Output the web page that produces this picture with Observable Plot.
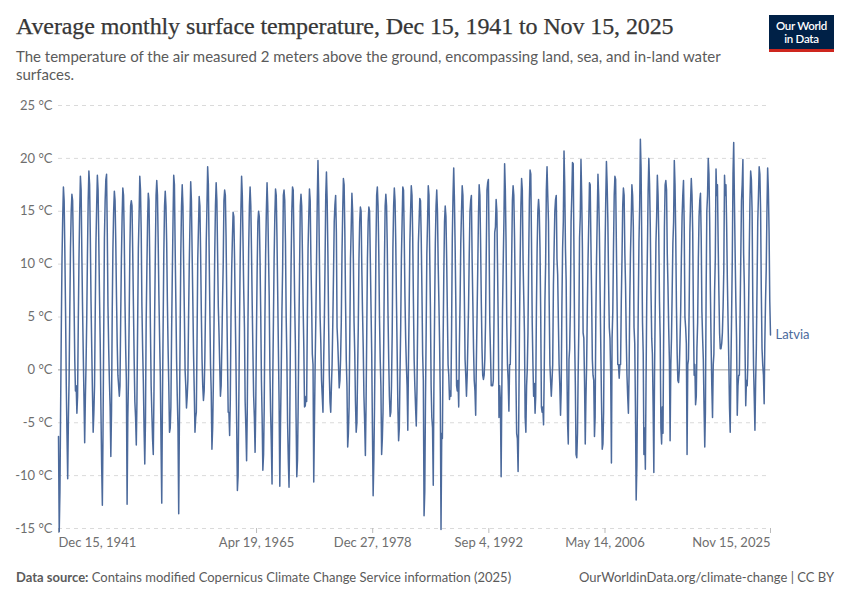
<!DOCTYPE html>
<html>
<head>
<meta charset="utf-8">
<script src="https://cdn.jsdelivr.net/npm/d3@7"></script>
<script src="https://cdn.jsdelivr.net/npm/@observablehq/plot@0.6"></script>
<style>
  body { margin:0; background:#fff; width:850px; height:600px; position:relative; overflow:hidden; font-family: Lato, "Noto Sans", sans-serif; }
  #title { position:absolute; left:16px; top:13px; font-family:"Liberation Serif", "DejaVu Serif", serif; font-size:24px; color:#373737; letter-spacing:-0.1px; -webkit-text-stroke:0.25px #373737; }
  #subtitle { position:absolute; left:16px; top:48px; width:740px; font-size:15px; line-height:17.5px; color:#5b5b5b; }
  #logo { position:absolute; left:769px; top:15px; width:65px; height:37px; background:#002147; border-bottom:3px solid #ce261e; color:#fff; font-size:11.5px; line-height:12.5px; text-align:center; box-sizing:border-box; padding-top:5px; font-weight:600; letter-spacing:-0.3px; }
  #chart { position:absolute; left:0; top:90px; }
  #footer { position:absolute; left:16px; right:16px; top:569px; font-size:13px; color:#5b5b5b; display:flex; justify-content:space-between; }
  #footer b { font-weight:700; }
</style>
</head>
<body>
<div id="title">Average monthly surface temperature, Dec 15, 1941 to Nov 15, 2025</div>
<div id="subtitle">The temperature of the air measured 2 meters above the ground, encompassing land, sea, and in-land water surfaces.</div>
<div id="logo">Our World<br>in Data</div>
<div id="chart"></div>
<div id="footer"><span><b>Data source:</b> Contains modified Copernicus Climate Change Service information (2025)</span><span>OurWorldinData.org/climate-change | CC BY</span></div>
<script>
// Monthly values (°C), Latvia. First value Dec 1941, then Jan..Dec per year, last Nov 2025.
const dec1941 = [-6.3];
const t1940s = [
 -15.3,-11.5,-4.0,4.0,10.5,14.5,17.3,16.0,11.0,5.5,-1.5,-6.0,
 -10.3,-4.5,-1.0,5.5,11.5,15.0,16.6,16.0,11.5,6.5,1.0,-2.0,
 -1.5,-4.1,-2.5,4.5,10.5,15.0,18.3,17.0,11.0,6.0,1.5,-2.5,
 -6.9,-2.5,0.5,5.0,11.0,16.0,18.8,17.5,12.5,6.5,2.0,-2.0,
 -5.9,-4.0,-1.5,5.5,12.0,15.5,18.4,17.0,12.0,7.0,2.5,-3.5,
 -9.0,-12.8,-6.0,3.5,12.5,16.0,18.0,18.5,13.0,6.0,2.0,-1.0,
 -3.5,-8.2,-4.0,5.5,11.5,15.0,16.9,16.0,12.0,7.0,2.5,-0.5,
 -1.5,-2.5,-1.5,5.0,10.5,14.5,17.2,16.5,12.5,6.5,2.0,-1.0
];
const t1950s = [
 -12.7,-4.5,-1.0,5.0,11.5,15.5,16.0,15.5,11.0,6.0,1.0,-3.0,
 -4.5,-7.1,-3.0,4.5,11.5,14.5,18.3,17.0,13.0,6.0,2.0,-1.0,
 -5.5,-8.9,-5.0,4.5,9.5,14.0,16.7,16.0,10.5,4.0,-1.5,-4.0,
 -6.5,-8.0,-2.5,5.0,11.0,16.5,17.9,16.5,12.0,7.0,3.0,-0.5,
 -7.0,-12.6,-3.5,4.0,11.0,15.5,16.9,15.5,12.0,6.5,2.0,-1.5,
 -5.9,-5.5,-3.5,3.5,9.0,14.0,18.4,17.5,11.5,6.5,1.0,-2.5,
 -5.5,-13.6,-5.0,3.0,11.0,15.5,17.5,15.5,10.0,5.5,0.0,-1.5,
 -3.6,-2.5,-1.0,5.0,10.0,14.0,17.8,16.0,11.0,6.5,1.5,-2.0,
 -5.9,-4.5,-4.0,3.0,10.5,13.5,16.4,15.5,11.0,5.5,1.0,-1.5,
 -2.9,-2.0,1.0,6.0,12.0,15.5,19.2,17.5,11.5,6.0,0.5,-2.0
];
const t1960s = [
 -7.5,-5.5,-1.5,4.5,11.0,15.5,17.7,16.0,11.0,6.0,3.5,0.5,
 -2.5,-1.5,2.0,6.5,10.0,16.0,17.0,16.5,12.5,6.5,1.0,-4.0,
 -4.0,-6.2,-3.0,5.0,9.5,12.5,14.9,14.5,10.5,5.5,0.5,-5.0,
 -11.4,-10.0,-3.5,4.0,10.5,15.0,18.3,16.5,12.0,7.5,4.0,-3.0,
 -5.5,-8.6,-4.0,4.5,11.5,15.5,17.3,15.5,11.0,6.0,1.5,-2.5,
 -4.5,-7.8,-3.5,3.5,9.5,14.0,15.0,14.5,10.5,5.5,-1.0,-4.5,
 -9.5,-8.0,-3.5,5.0,11.0,15.0,17.7,15.5,11.0,7.0,0.0,-4.0,
 -7.0,-10.8,-1.5,4.5,10.5,14.5,17.1,16.5,12.5,7.5,2.0,-3.0,
 -11.0,-5.0,-0.5,5.5,9.5,16.5,17.0,16.0,12.0,5.0,1.0,-5.0,
 -8.5,-11.1,-6.0,3.0,10.0,15.0,17.3,17.0,12.0,6.5,2.5,-4.5
];
const t1970s = [
 -10.1,-8.5,-3.5,3.5,9.5,15.5,16.6,15.5,11.0,6.0,2.0,-3.5,
 -3.4,-2.5,-3.0,5.0,11.5,14.5,17.1,16.0,10.5,6.5,1.5,0.5,
 -10.6,-5.0,0.5,5.0,10.5,16.0,19.8,16.5,10.5,5.0,2.5,-1.0,
 -2.5,-4.0,0.5,4.5,10.0,16.5,18.7,16.0,11.0,4.5,-0.5,-3.0,
 -4.0,-1.5,0.5,4.5,9.0,14.0,15.6,16.5,13.0,4.0,2.5,0.5,
 -1.7,-1.0,1.0,4.5,11.0,15.0,18.1,17.5,13.0,6.5,1.0,-1.5,
 -7.3,-6.0,-3.5,3.0,10.5,13.5,16.7,15.0,10.5,4.5,1.5,-3.0,
 -5.9,-5.0,-0.5,4.0,10.5,14.0,15.4,15.0,9.5,5.5,2.0,-2.5,
 -5.0,-8.1,-3.5,3.5,10.5,14.0,15.4,15.0,10.5,6.0,1.5,-5.5,
 -11.9,-8.5,-3.5,3.5,11.5,16.5,17.3,15.5,11.0,5.0,1.0,-1.5
];
const t1980s = [
 -8.0,-6.5,-4.0,2.5,10.0,15.5,16.6,15.5,11.5,5.5,1.0,-2.5,
 -4.4,-4.0,-1.5,3.5,11.5,15.5,17.2,16.0,12.0,6.5,1.5,-3.5,
 -6.7,-5.5,-0.5,4.0,10.5,14.0,17.3,17.0,12.5,7.0,3.0,0.5,
 -1.5,-5.7,0.5,6.0,12.0,15.0,17.4,16.5,12.5,6.5,1.0,-1.5,
 -3.5,-5.3,-2.0,4.5,12.0,14.0,16.2,16.0,12.5,7.5,1.5,-1.0,
 -13.8,-11.5,-3.5,3.5,11.0,14.0,17.4,16.5,11.0,6.0,-1.5,-4.5,
 -5.5,-10.9,-1.5,5.5,12.0,15.5,17.0,15.0,10.0,6.5,2.5,-2.5,
 -15.1,-6.0,-6.5,2.5,9.0,14.0,15.5,14.5,10.5,5.5,0.5,-0.5,
 -2.8,-2.0,-2.5,4.0,12.5,16.5,19.1,16.0,11.5,6.0,-1.5,-2.0,
 -1.0,-3.5,2.0,6.5,12.0,15.0,17.4,16.5,12.0,7.0,1.0,-0.5
];
const t1990s = [
 -2.5,-0.5,2.5,6.0,11.0,15.0,16.0,16.5,10.5,6.5,2.0,-1.0,
 -2.0,-4.3,0.5,5.0,9.5,14.5,17.5,16.5,12.0,6.5,2.0,-0.5,
 -0.9,-0.5,1.0,4.5,11.0,17.0,17.7,18.0,12.0,4.5,1.5,-1.5,
 -1.4,-1.5,-1.0,5.0,13.0,13.5,16.1,15.0,9.5,4.0,-4.5,-1.5,
 -3.0,-10.1,-2.5,5.5,10.0,14.0,19.5,17.0,12.0,4.5,0.5,-1.0,
 -3.9,0.5,0.5,4.5,10.5,16.0,17.4,16.5,12.5,7.0,-1.0,-6.0,
 -6.5,-9.6,-4.5,4.0,10.5,15.5,18.1,17.0,10.5,7.0,3.5,-4.5,
 -5.9,-1.5,0.0,3.5,10.5,16.0,18.9,18.5,12.0,4.5,0.5,-2.5,
 -1.3,-4.1,-2.5,6.0,11.5,15.0,16.1,15.0,11.5,5.5,-3.5,-4.0,
 -3.5,-5.2,-0.5,6.5,10.0,17.0,19.2,16.5,14.0,6.5,0.5,-1.0
];
const t2000s = [
 -2.5,-1.0,0.5,8.0,11.5,15.0,16.1,16.5,10.5,9.0,4.5,0.5,
 -1.5,-4.3,-2.0,6.0,11.5,14.0,20.7,17.5,11.5,8.5,0.5,-5.0,
 -7.0,1.0,2.0,6.0,14.0,16.5,19.6,19.5,11.5,3.0,-1.5,-8.0,
 -8.3,-6.0,-0.5,4.0,12.5,14.5,19.9,16.5,11.5,3.5,3.0,-1.0,
 -7.0,-2.5,0.5,6.0,10.5,14.0,17.7,17.5,12.0,7.0,1.0,-0.5,
 -1.0,-6.3,-4.5,5.0,10.5,14.5,18.5,16.5,13.0,7.5,2.0,-3.0,
 -7.5,-7.0,-4.0,5.0,11.0,16.0,19.7,17.5,14.0,8.5,4.0,3.0,
 -0.5,-8.8,3.0,5.5,11.5,16.5,18.3,18.0,12.0,6.5,0.5,0.5,
 -0.8,0.5,0.5,6.5,10.5,15.5,17.2,16.5,11.0,8.0,3.0,-0.5,
 -2.5,-4.1,-0.5,6.5,11.0,14.0,17.5,16.5,13.5,4.0,2.5,-3.5
];
const t2010s = [
 -12.3,-9.0,-2.0,6.0,12.0,15.5,21.8,19.0,11.5,4.5,1.5,-8.0,
 -5.5,-9.4,-1.5,6.5,11.5,17.0,20.0,17.5,13.5,7.5,3.0,1.5,
 -3.5,-9.7,-0.5,6.0,12.0,14.5,18.4,16.5,12.5,6.5,3.0,-5.5,
 -7.0,-3.5,-6.0,4.0,13.5,17.5,17.9,17.0,11.0,8.0,4.0,1.0,
 -6.7,0.5,3.0,7.5,12.0,14.0,19.8,17.5,12.5,6.0,1.5,-1.0,
 -1.2,0.0,2.5,5.5,10.5,14.5,16.5,17.9,13.5,5.0,4.0,2.5,
 -8.0,0.5,1.0,6.0,13.0,16.0,18.1,16.5,13.0,5.0,-0.5,0.5,
 -3.3,-2.5,2.0,4.5,10.5,14.5,16.0,16.7,12.5,5.5,3.0,1.0,
 -3.5,-7.3,-4.0,7.5,15.0,16.5,20.0,18.5,14.0,7.5,2.5,-1.5,
 -4.5,0.5,1.5,7.5,10.5,19.0,16.5,17.5,12.0,7.5,3.5,2.0
];
const t2020s = [
 2.0,2.5,3.5,6.0,9.5,18.4,16.5,17.5,13.5,8.5,4.5,1.0,
 -3.5,-5.9,0.0,5.0,10.5,18.5,21.5,16.0,11.0,6.5,3.0,-4.3,
 -1.5,-0.5,-0.5,5.0,10.5,16.0,17.5,19.9,11.0,8.0,2.0,-3.4,
 -1.0,-1.5,0.5,5.5,11.0,16.0,18.8,18.0,15.0,6.5,0.5,-2.5,
 -5.7,-1.0,2.0,8.0,14.0,16.5,19.2,18.5,15.0,7.5,2.0,0.5,
 -0.5,-3.2,2.5,6.5,9.5,15.0,19.1,17.0,13.0,6.5,3.3
];
const entity = "Latvia";
const yTicks = [-15, -10, -5, 0, 5, 10, 15, 20, 25];
const xTickDates = ["1941-12-15", "1965-04-19", "1978-12-27", "1992-09-04", "2006-05-14", "2025-11-15"];
const xTickLabels = ["Dec 15, 1941", "Apr 19, 1965", "Dec 27, 1978", "Sep 4, 1992", "May 14, 2006", "Nov 15, 2025"];

const values = [...dec1941, ...t1940s, ...t1950s, ...t1960s, ...t1970s, ...t1980s, ...t1990s, ...t2000s, ...t2010s, ...t2020s];
const data = values.map((v, i) => ({ date: new Date(Date.UTC(1941, 11 + i, 15)), value: v }));
const last = data[data.length - 1];
const ticks = xTickDates.map((d, i) => ({ date: new Date(d + "T00:00:00Z"), label: xTickLabels[i] }));
const color = "#4c6a9c";

const chart = Plot.plot({
  width: 850,
  height: 470,
  marginLeft: 58,
  marginRight: 80,
  marginTop: 15,
  marginBottom: 32,
  style: { fontFamily: "Lato, sans-serif", fontSize: "13px", color: "#666", background: "transparent" },
  x: { type: "utc", domain: [data[0].date, last.date] },
  y: { domain: [-15, 25] },
  marks: [
    Plot.ruleY(yTicks.filter(d => d !== 0), { stroke: "#dadada", strokeDasharray: "4,4" }),
    Plot.ruleY([0], { stroke: "#a1a1a1", strokeWidth: 1 }),
    Plot.axisY({ ticks: yTicks, tickSize: 0, tickPadding: 6, tickFormat: d => d + " °C", label: null, fill: "#6e6e6e", fontSize: 13 }),
    Plot.axisX(ticks.slice(0, 1), { x: "date", text: "label", tickSize: 5, tickPadding: 4, textAnchor: "start", label: null, stroke: "#bbb", fill: "#6e6e6e", fontSize: 13 }),
    Plot.axisX(ticks.slice(1, -1), { x: "date", text: "label", tickSize: 5, tickPadding: 4, label: null, stroke: "#bbb", fill: "#6e6e6e", fontSize: 13 }),
    Plot.axisX(ticks.slice(-1), { x: "date", text: "label", tickSize: 5, tickPadding: 4, textAnchor: "end", label: null, stroke: "#bbb", fill: "#6e6e6e", fontSize: 13 }),
    Plot.lineY(data, { x: "date", y: "value", stroke: color, strokeWidth: 1.5 }),
    Plot.text([last], { x: "date", y: "value", text: () => entity, textAnchor: "start", dx: 5, fill: color, fontSize: 13 })
  ]
});
document.getElementById("chart").appendChild(chart);
</script>
</body>
</html>
